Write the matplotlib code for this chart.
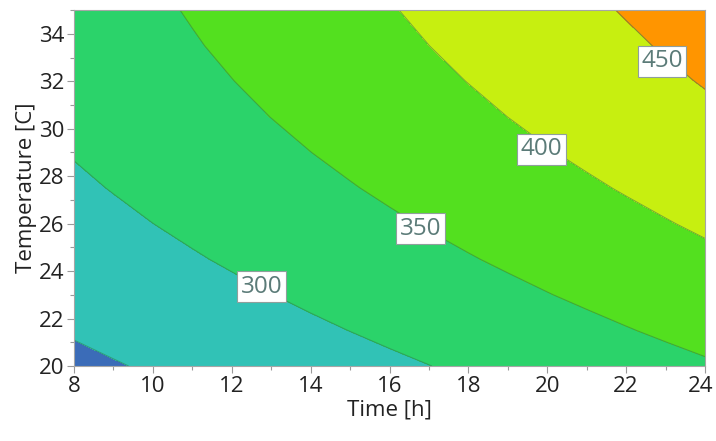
import numpy as np
import matplotlib
matplotlib.use("Agg")
import matplotlib.pyplot as plt
from matplotlib.ticker import MultipleLocator

# response surface (rows: temperature, cols: time)
time_h = [8, 9, 10, 11, 12, 13, 14, 15, 16, 17, 18, 19, 20, 21, 22, 23, 24]
temp_c = [20, 21.5, 23, 24.5, 26, 27.5, 29, 30.5, 32, 33.5, 35]
response = [
    [241.1, 247.5, 254.0, 260.5, 266.9, 273.4, 279.9, 286.5, 293.0, 299.5, 306.1, 312.7, 319.3, 325.9, 332.5, 339.1, 345.7],
    [253.3, 260.0, 266.7, 273.4, 280.2, 286.9, 293.7, 300.4, 307.2, 314.0, 320.8, 327.7, 334.5, 341.3, 348.2, 355.1, 362.0],
    [264.7, 271.6, 278.6, 285.6, 292.5, 299.5, 306.6, 313.6, 320.6, 327.7, 334.7, 341.8, 348.9, 356.0, 363.1, 370.2, 377.4],
    [275.2, 282.4, 289.6, 296.9, 304.1, 311.4, 318.6, 325.9, 333.2, 340.5, 347.8, 355.1, 362.5, 369.8, 377.2, 384.5, 391.9],
    [285.0, 292.4, 299.9, 307.3, 314.8, 322.3, 329.8, 337.4, 344.9, 352.4, 360.0, 367.6, 375.2, 382.8, 390.4, 398.0, 405.7],
    [293.8, 301.5, 309.3, 317.0, 324.7, 332.5, 340.2, 348.0, 355.8, 363.6, 371.4, 379.2, 387.1, 394.9, 402.8, 410.7, 418.6],
    [301.9, 309.9, 317.8, 325.8, 333.8, 341.8, 349.8, 357.8, 365.9, 373.9, 382.0, 390.1, 398.2, 406.3, 414.4, 422.5, 430.6],
    [309.1, 317.3, 325.6, 333.8, 342.0, 350.3, 358.5, 366.8, 375.1, 383.4, 391.7, 400.1, 408.4, 416.8, 425.1, 433.5, 441.9],
    [315.5, 324.0, 332.5, 340.9, 349.4, 357.9, 366.4, 375.0, 383.5, 392.1, 400.6, 409.2, 417.8, 426.4, 435.0, 443.7, 452.3],
    [321.1, 329.8, 338.5, 347.3, 356.0, 364.8, 373.5, 382.3, 391.1, 399.9, 408.7, 417.5, 426.4, 435.2, 444.1, 453.0, 461.9],
    [325.9, 334.8, 343.8, 352.8, 361.7, 370.7, 379.8, 388.8, 397.8, 406.9, 416.0, 425.0, 434.1, 443.2, 452.4, 461.5, 470.6],
]
levels = [200, 250, 300, 350, 400, 450, 500]
fill_colors = ["#3b6cb8", "#31c2b6", "#2bd36a", "#53e01f", "#c7ef10", "#ff9500"]
label_levels = [300, 350, 400, 450]
label_pos = [(12.76, 23.34), (16.78, 25.79), (19.85, 29.13), (22.91, 32.85)]
x_ticks = time_h[::2]

plt.rcParams["font.family"] = ["Open Sans", "DejaVu Sans"]

fig = plt.figure(figsize=(7.16, 4.41), dpi=100)
ax = fig.add_axes([0.1034, 0.170, 0.8812, 0.807])

Z = np.array(response)
ax.contourf(time_h, temp_c, Z, levels=levels, colors=fill_colors)
ax.contour(time_h, temp_c, Z, levels=levels[1:-1], colors="#2f7d4f",
           linewidths=0.8, alpha=0.55)
for lev, (px, py) in zip(label_levels, label_pos):
    ax.text(px, py, str(lev), fontsize=17.5, color="#5b7b78",
            ha="center", va="center", zorder=5,
            bbox=dict(boxstyle="square,pad=0.15", facecolor="white",
                      edgecolor="#8f9f9c", linewidth=0.8))

ax.set_xlim(8, 24)
ax.set_ylim(20, 35)
# last x label is drawn separately, nudged left so it stays inside the figure
ax.set_xticks(x_ticks, [str(v) for v in x_ticks[:-1]] + [""])
ax.annotate(str(x_ticks[-1]), xy=(x_ticks[-1], 0), xycoords=("data", "axes fraction"),
            xytext=(-3, -7), textcoords="offset points", ha="center", va="top",
            fontsize=16, color="#222222")
ax.xaxis.set_minor_locator(MultipleLocator(1))
ax.yaxis.set_major_locator(MultipleLocator(2))
ax.yaxis.set_minor_locator(MultipleLocator(1))
ax.tick_params(which="major", length=5, width=0.8, color="#9a9a9a",
               labelsize=16, labelcolor="#222222", pad=2)
ax.tick_params(which="minor", length=3, width=0.8, color="#9a9a9a")
for side in ax.spines.values():
    side.set_color("#a6a6a6")
    side.set_linewidth(0.8)

ax.set_xlabel("Time [h]", fontsize=16, color="#222222", labelpad=2)
ax.set_ylabel("Temperature [C]", fontsize=16, color="#222222", labelpad=1)

fig.savefig("out.png", dpi=100)
